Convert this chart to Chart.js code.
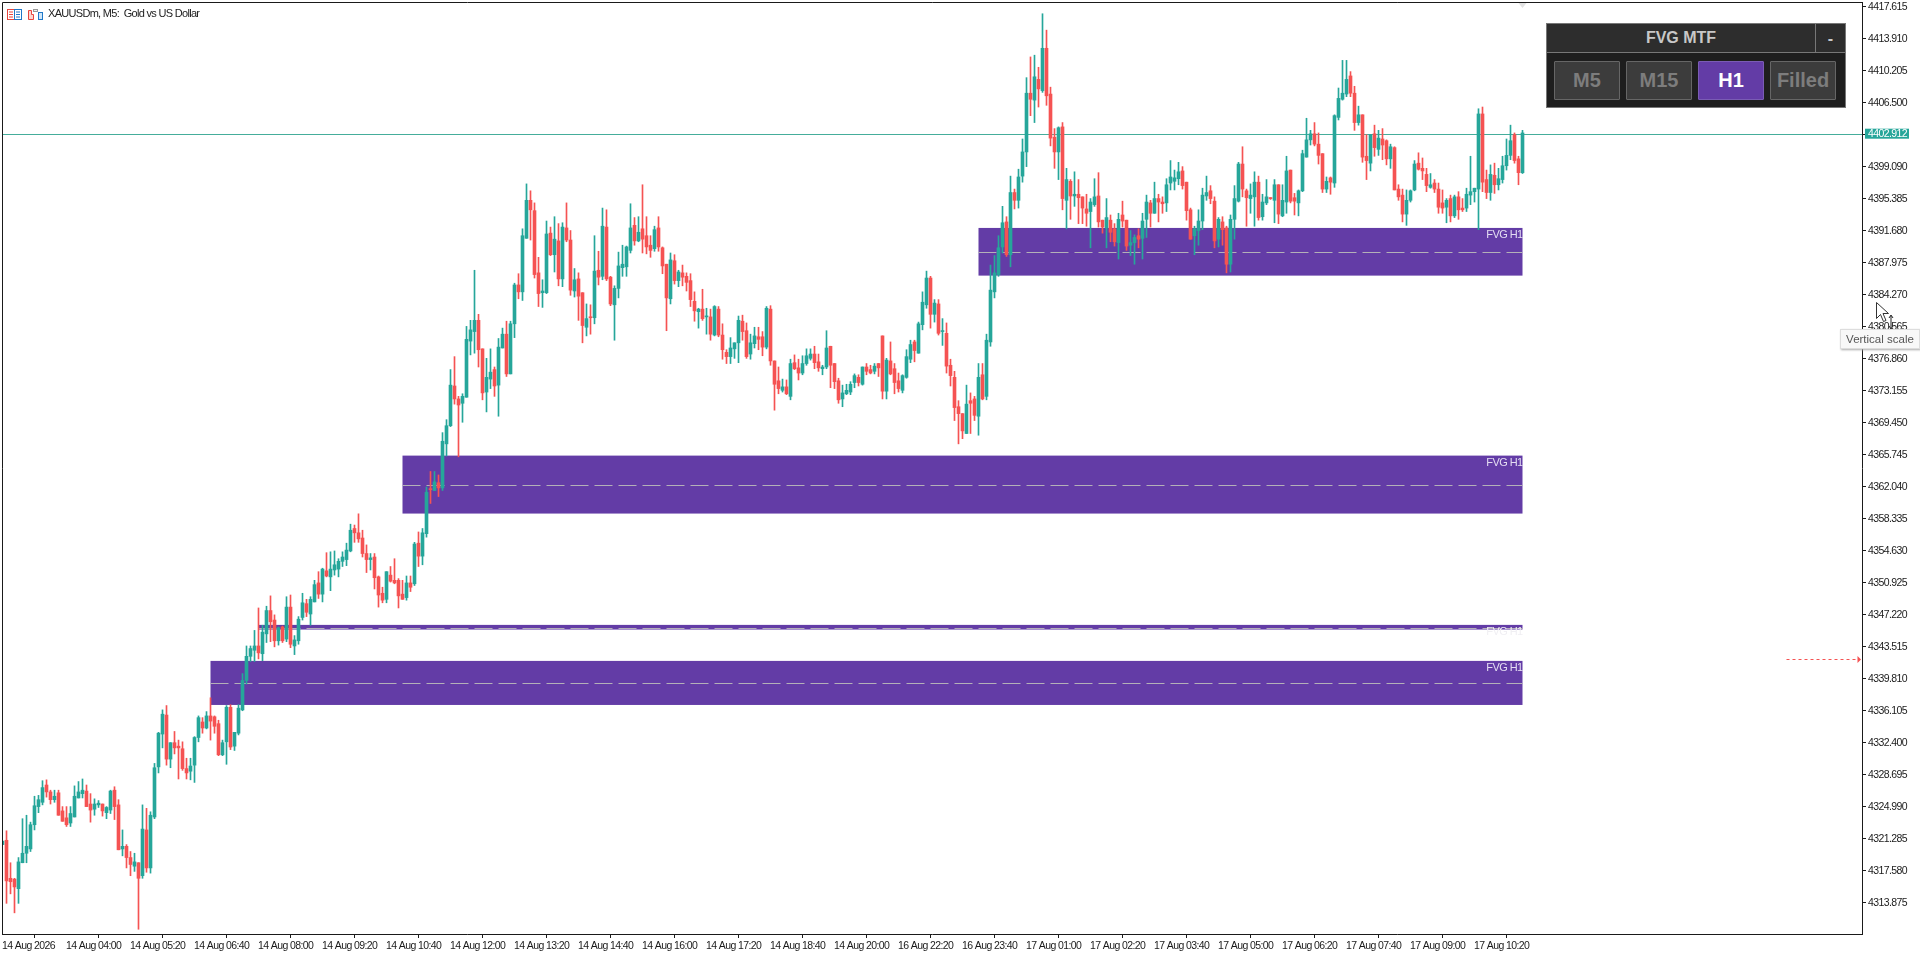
<!DOCTYPE html>
<html>
<head>
<meta charset="utf-8">
<title>XAUUSDm, M5</title>
<script src="https://cdn.jsdelivr.net/npm/chart.js@4/dist/chart.umd.min.js"></script>
<style>
  html, body { margin: 0; padding: 0; background: #fff; overflow: hidden; }
  #wrap { position: relative; width: 1920px; height: 955px; font-family: "Liberation Sans", Arial, sans-serif; }
  canvas { display: block; }
  .title { position: absolute; left: 48px; top: 6px; font: 11px/14px "Liberation Sans", sans-serif; letter-spacing: -0.7px; color: #222; white-space: pre; }
  .icons { position: absolute; left: 7px; top: 9px; }
  #panel { position: absolute; left: 1546px; top: 23px; width: 298px; height: 83px; background: #1e1e1e; border: 1px solid #777; }
  #panel .head { position: absolute; left: 0; top: 0; width: 268px; height: 28px; background: #2d2d2d; border-bottom: 1px solid #777; border-right: 1px solid #777; color: #c8c8c8; font-weight: bold; font-size: 16px; line-height: 28px; text-align: center; }
  #panel .min { position: absolute; left: 269px; top: 0; width: 29px; height: 28px; background: #2d2d2d; border-bottom: 1px solid #777; color: #c8c8c8; font-weight: bold; font-size: 16px; line-height: 30px; text-align: center; }
  #panel .btn { position: absolute; top: 37px; width: 64px; height: 37px; background: #3c3c3c; border: 1px solid #666; border-radius: 1px; color: #7d7d7d; font-weight: bold; font-size: 20px; line-height: 37px; text-align: center; }
  #panel .btn.on { background: #633ca6; color: #fff; border-color: #7a5cb4; }
  #tip { position: absolute; left: 1840px; top: 329px; width: 78px; height: 18px; background: #f8f8f8; border: 1px solid #ddd; box-shadow: 1px 1px 2px #aaa; font: 11.5px/18px "Liberation Sans", sans-serif; color: #555; text-align: center; }
  #cursor { position: absolute; left: 1876px; top: 302px; }
</style>
</head>
<body>
<div id="wrap">
  <canvas id="chart" width="1920" height="955"></canvas>
  <svg class="icons" width="37" height="12" viewBox="0 0 37 12">
    <rect x="0.5" y="0.5" width="7" height="10" fill="#fff" stroke="#e8453c"/>
    <path d="M2 3h4M2 5.5h4M2 8h4" stroke="#e8453c"/>
    <rect x="7.5" y="0.5" width="7" height="10" fill="#fff" stroke="#1f78c8"/>
    <path d="M9 3h4M9 5.5h4M9 8h4" stroke="#1f78c8"/>
    <path d="M21.5 1.5h3v4h2v5h-5z" fill="#fbd5cf" stroke="#e8453c"/>
    <rect x="31.5" y="3.5" width="4" height="7" fill="#cfe6f8" stroke="#1f78c8"/>
    <rect x="26.5" y="0.5" width="4" height="2" fill="#eee" stroke="#999"/>
  </svg>
  <div class="title">XAUUSDm, M5:  Gold vs US Dollar</div>
  <div id="panel">
    <div class="head">FVG MTF</div>
    <div class="min">-</div>
    <div class="btn" style="left:7px">M5</div>
    <div class="btn" style="left:79px">M15</div>
    <div class="btn on" style="left:151px">H1</div>
    <div class="btn" style="left:223px">Filled</div>
  </div>
  <div id="tip">Vertical scale</div>
  <svg id="cursor" width="24" height="30" viewBox="0 0 24 30">
    <path d="M0.5 0.5v16l4-4 3 7 2.5-1-3-7h5.5z" fill="#fff" stroke="#333"/>
    <path d="M15 14v12M13 16l2-3 2 3M13 24l2 3 2-3" fill="none" stroke="#222"/>
  </svg>
</div>
<script>
const tickLabels = ["14 Aug 2026", "14 Aug 04:00", "14 Aug 05:20", "14 Aug 06:40", "14 Aug 08:00", "14 Aug 09:20", "14 Aug 10:40", "14 Aug 12:00", "14 Aug 13:20", "14 Aug 14:40", "14 Aug 16:00", "14 Aug 17:20", "14 Aug 18:40", "14 Aug 20:00", "16 Aug 22:20", "16 Aug 23:40", "17 Aug 01:00", "17 Aug 02:20", "17 Aug 03:40", "17 Aug 05:00", "17 Aug 06:20", "17 Aug 07:40", "17 Aug 09:00", "17 Aug 10:20"];
const priceTicks = [4417.615, 4413.910, 4410.205, 4406.500, 4402.795, 4399.090, 4395.385, 4391.680, 4387.975, 4384.270, 4380.565, 4376.860, 4373.155, 4369.450, 4365.745, 4362.040, 4358.335, 4354.630, 4350.925, 4347.220, 4343.515, 4339.810, 4336.105, 4332.400, 4328.695, 4324.990, 4321.285, 4317.580, 4313.875];

const opens = [
  4320.6,4321.1,4316.7,4316.6,4315.5,4318.5,4319.6,4320.1,4322.9,4325.0,
  4325.5,4327.5,4326.7,4325.8,4326.6,4324.5,4323.7,4323.1,4323.8,4326.0,
  4326.5,4326.8,4325.3,4324.7,4325.2,4325.3,4324.3,4324.6,4326.9,4325.2,
  4320.1,4320.4,4319.1,4318.1,4318.5,4317.0,4322.3,4317.9,4323.8,4329.6,
  4333.4,4335.6,4330.5,4332.4,4332.0,4331.7,4329.4,4329.1,4329.8,4333.0,
  4334.8,4334.1,4335.5,4335.4,4334.6,4331.0,4332.5,4336.5,4332.0,4333.5,
  4336.2,4339.6,4342.4,4343.1,4343.6,4342.7,4345.0,4347.7,4346.6,4344.2,
  4345.8,4344.4,4348.1,4343.6,4344.2,4346.9,4348.5,4347.3,4348.7,4350.9,
  4349.6,4352.3,4351.6,4352.4,4352.5,4353.4,4353.6,4354.6,4357.2,4356.7,
  4356.1,4354.3,4353.6,4353.9,4351.6,4349.7,4349.0,4351.8,4351.2,4351.2,
  4349.6,4349.2,4350.9,4350.8,4355.5,4354.0,4356.6,4361.8,4361.6,4362.5,
  4361.9,4367.0,4369.1,4373.7,4372.2,4371.7,4372.4,4378.9,4380.0,4381.3,
  4378.0,4373.0,4374.5,4375.6,4373.8,4378.1,4379.7,4375.1,4380.9,4385.4,
  4384.6,4390.8,4395.2,4394.0,4386.8,4384.5,4384.5,4391.4,4388.9,4390.5,
  4386.1,4392.0,4390.6,4384.7,4386.1,4384.5,4380.5,4381.7,4381.6,4387.1,
  4386.4,4392.1,4386.3,4383.1,4385.0,4387.4,4387.5,4389.4,4392.3,4390.5,
  4391.9,4391.1,4390.0,4389.6,4392.0,4389.7,4387.8,4383.8,4388.2,4385.9,
  4386.8,4386.4,4385.9,4383.5,4382.3,4382.6,4381.7,4381.7,4379.6,4382.6,
  4379.6,4377.6,4377.1,4378.0,4378.7,4381.2,4380.1,4377.4,4378.6,4379.4,
  4379.4,4378.2,4382.6,4376.6,4374.3,4373.2,4373.6,4372.5,4376.4,4375.8,
  4375.2,4376.3,4376.9,4377.4,4376.5,4375.7,4375.9,4378.3,4376.3,4374.3,
  4372.2,4372.8,4373.0,4374.1,4374.7,4373.9,4375.9,4375.6,4375.4,4376.3,
  4379.5,4373.1,4376.6,4375.7,4374.3,4373.2,4374.7,4376.8,4378.8,4377.5,
  4380.8,4383.1,4386.2,4382.0,4383.2,4380.0,4379.8,4376.1,4374.7,4371.3,
  4370.5,4368.2,4372.0,4372.2,4370.2,4375.0,4372.5,4378.8,4384.6,4386.6,
  4389.8,4392.7,4388.9,4396.1,4395.2,4398.0,4400.8,4407.6,4406.8,4409.2,
  4407.9,4412.8,4407.5,4402.5,4400.8,4403.7,4395.2,4397.4,4395.7,4395.9,
  4395.6,4394.2,4393.9,4394.7,4395.7,4392.9,4392.0,4392.9,4391.9,4390.3,
  4393.5,4392.9,4390.0,4390.3,4391.1,4390.8,4393.0,4394.9,4393.7,4395.4,
  4395.0,4394.9,4397.2,4397.4,4397.7,4398.6,4397.3,4394.1,4391.1,4391.7,
  4392.8,4395.7,4396.3,4395.1,4390.7,4392.7,4392.0,4387.8,4393.0,4395.1,
  4399.4,4396.3,4395.4,4395.6,4397.3,4393.3,4394.9,4395.5,4395.2,4397.0,
  4393.4,4395.0,4398.7,4395.5,4394.9,4396.3,4400.2,4402.2,4402.9,4401.7,
  4400.6,4396.5,4397.8,4397.2,4404.8,4406.9,4407.5,4409.6,4407.6,4404.2,
  4405.1,4400.3,4399.5,4402.9,4401.1,4402.3,4402.1,4400.0,4401.3,4396.5,
  4395.8,4393.6,4395.2,4396.4,4399.5,4398.9,4398.2,4396.7,4397.2,4396.5,
  4394.9,4394.4,4395.4,4393.4,4395.6,4394.3,4394.3,4395.8,4396.2,4396.5,
  4405.2,4397.6,4396.1,4398.1,4397.0,4397.6,4399.2,4400.4,4402.8,4400.0,
  4398.4
];
const highs = [
  4321.0,4322.2,4318.5,4316.7,4319.1,4323.6,4324.0,4323.2,4326.2,4326.3,
  4328.0,4328.1,4326.9,4326.9,4326.9,4325.0,4325.0,4325.0,4327.4,4327.9,
  4328.2,4327.5,4326.5,4325.9,4325.7,4325.3,4325.0,4326.9,4327.3,4325.8,
  4322.3,4320.6,4319.8,4319.6,4318.5,4325.2,4324.8,4324.4,4330.0,4333.6,
  4336.2,4336.7,4332.4,4333.7,4332.7,4332.5,4330.6,4330.6,4333.1,4335.5,
  4335.3,4336.0,4337.6,4335.5,4335.0,4332.7,4336.7,4336.8,4333.6,4336.8,
  4340.4,4343.6,4343.6,4345.4,4348.0,4346.0,4348.2,4349.4,4347.2,4345.8,
  4345.9,4349.3,4349.5,4344.8,4347.0,4349.7,4349.0,4349.3,4351.2,4352.2,
  4352.6,4354.4,4354.5,4354.6,4353.7,4354.5,4355.5,4357.7,4357.6,4358.9,
  4357.0,4355.3,4354.3,4354.3,4351.7,4350.4,4352.2,4352.8,4353.7,4351.4,
  4351.2,4351.7,4351.7,4355.6,4356.8,4357.2,4362.0,4363.8,4363.8,4363.4,
  4368.3,4369.8,4375.6,4377.1,4372.5,4372.8,4380.6,4381.3,4387.1,4382.0,
  4378.0,4376.9,4378.0,4375.9,4379.2,4380.4,4381.2,4381.2,4385.6,4386.7,
  4391.9,4397.1,4396.3,4394.9,4388.6,4386.0,4392.8,4392.1,4393.3,4392.5,
  4392.6,4394.9,4391.7,4387.3,4386.8,4384.5,4383.2,4383.1,4391.1,4389.3,
  4394.3,4394.1,4386.4,4385.3,4389.2,4390.0,4389.9,4394.8,4393.2,4393.3,
  4397.0,4393.3,4391.1,4392.2,4393.3,4389.8,4387.8,4389.1,4388.9,4387.1,
  4387.7,4386.8,4386.7,4384.6,4382.7,4384.9,4382.7,4382.6,4383.0,4382.9,
  4380.9,4377.9,4379.3,4378.7,4381.8,4381.9,4381.0,4379.7,4380.5,4380.5,
  4380.0,4382.9,4383.0,4376.6,4375.9,4374.5,4374.4,4376.8,4377.3,4376.8,
  4377.2,4378.0,4378.0,4378.3,4377.4,4376.1,4380.1,4378.3,4376.3,4374.6,
  4373.8,4373.9,4374.2,4375.1,4375.0,4375.9,4376.3,4376.1,4376.3,4376.3,
  4379.5,4376.9,4378.8,4376.3,4375.2,4375.0,4377.9,4379.0,4379.0,4381.1,
  4384.6,4387.0,4386.4,4383.7,4383.7,4381.5,4381.0,4376.8,4375.4,4372.0,
  4370.5,4373.8,4372.9,4372.5,4376.3,4376.3,4379.7,4387.7,4388.8,4391.1,
  4394.5,4393.3,4398.0,4396.5,4398.8,4402.3,4409.4,4411.8,4412.0,4410.6,
  4416.8,4414.9,4408.3,4403.5,4403.7,4404.2,4398.9,4397.6,4398.5,4397.6,
  4395.6,4395.9,4395.4,4397.7,4398.4,4392.9,4395.4,4393.5,4392.5,4393.7,
  4395.1,4392.9,4391.7,4391.2,4391.9,4393.7,4395.8,4395.2,4397.3,4395.9,
  4395.6,4397.7,4399.8,4398.7,4399.6,4399.1,4397.3,4394.3,4392.2,4394.1,
  4396.6,4398.0,4396.9,4395.6,4393.2,4393.3,4392.2,4393.5,4396.9,4399.6,
  4401.4,4396.5,4397.1,4398.5,4398.0,4395.9,4397.6,4395.5,4397.6,4397.0,
  4397.0,4400.3,4398.7,4396.0,4396.4,4401.0,4404.7,4403.3,4404.2,4403.0,
  4400.6,4397.9,4397.9,4405.1,4408.2,4411.4,4411.4,4410.1,4408.4,4406.1,
  4405.1,4402.8,4402.8,4403.9,4403.3,4403.5,4402.2,4401.7,4401.4,4397.0,
  4396.5,4396.4,4396.4,4399.8,4400.7,4400.1,4398.9,4398.3,4397.6,4397.2,
  4396.4,4395.4,4395.8,4395.8,4396.2,4395.4,4396.6,4400.3,4396.6,4405.8,
  4406.0,4398.7,4399.3,4399.5,4398.9,4400.3,4402.3,4403.9,4403.0,4400.3,
  4403.3
];
const lows = [
  4320.6,4313.8,4314.9,4312.7,4313.8,4318.5,4318.5,4319.8,4322.3,4324.3,
  4325.2,4326.1,4325.3,4325.5,4324.0,4323.3,4322.7,4322.7,4323.8,4326.0,
  4326.0,4325.0,4323.2,4324.0,4324.9,4323.9,4323.6,4324.2,4323.5,4320.0,
  4319.3,4317.9,4317.0,4317.5,4310.8,4316.7,4317.4,4317.3,4323.6,4328.9,
  4331.8,4329.8,4329.5,4331.1,4328.2,4329.2,4328.2,4328.1,4327.8,4332.5,
  4333.5,4334.0,4332.7,4333.5,4330.9,4330.9,4329.9,4331.6,4331.5,4333.3,
  4336.1,4339.2,4341.8,4341.8,4342.1,4341.9,4344.0,4344.1,4343.5,4343.7,
  4344.0,4344.1,4343.4,4342.6,4343.8,4346.6,4347.0,4346.0,4348.7,4349.1,
  4348.7,4351.6,4350.0,4351.8,4351.6,4352.8,4352.9,4354.5,4355.6,4355.6,
  4353.9,4352.1,4352.4,4350.2,4348.1,4348.6,4348.6,4351.0,4350.8,4348.0,
  4349.0,4348.9,4349.9,4350.6,4352.8,4353.0,4356.2,4360.1,4361.6,4360.9,
  4361.6,4365.6,4369.0,4371.6,4365.5,4369.5,4372.4,4377.3,4377.5,4375.9,
  4372.1,4370.7,4373.4,4372.5,4370.2,4378.1,4374.8,4375.1,4379.3,4383.8,
  4383.6,4390.8,4390.6,4386.2,4382.9,4382.8,4384.4,4388.8,4386.9,4385.3,
  4385.2,4390.4,4384.2,4384.0,4381.3,4378.7,4379.5,4379.7,4380.9,4385.4,
  4386.0,4385.9,4383.0,4379.0,4383.9,4386.4,4386.4,4389.1,4390.0,4390.4,
  4389.1,4389.0,4388.6,4389.3,4389.3,4386.7,4380.1,4383.2,4385.5,4385.2,
  4385.3,4384.7,4382.9,4381.2,4380.4,4381.3,4379.7,4379.0,4379.5,4379.4,
  4376.8,4376.3,4376.3,4376.9,4376.4,4379.0,4376.9,4376.8,4378.1,4377.9,
  4377.2,4378.0,4376.1,4370.9,4372.8,4373.0,4372.7,4372.1,4375.6,4374.4,
  4375.0,4376.1,4376.7,4375.7,4375.4,4375.0,4375.7,4373.5,4373.4,4371.7,
  4371.3,4372.7,4372.7,4373.5,4373.7,4373.8,4375.0,4375.1,4375.1,4374.8,
  4372.2,4372.2,4375.0,4372.8,4373.0,4372.9,4374.6,4376.4,4376.5,4377.5,
  4380.2,4382.7,4380.4,4381.1,4379.6,4378.4,4375.2,4373.7,4369.7,4367.0,
  4367.6,4368.2,4368.2,4369.7,4368.0,4372.1,4372.1,4378.3,4383.9,4386.4,
  4389.1,4388.7,4387.5,4394.2,4394.3,4397.3,4399.1,4405.0,4404.2,4406.0,
  4407.7,4406.2,4401.5,4398.9,4397.6,4394.1,4391.9,4393.0,4394.5,4392.5,
  4392.5,4392.2,4389.7,4394.5,4392.1,4391.4,4389.7,4390.4,4389.9,4388.4,
  4392.1,4389.4,4388.8,4387.8,4389.7,4388.4,4390.9,4392.1,4393.7,4392.7,
  4393.7,4393.9,4396.4,4396.4,4397.0,4396.5,4392.9,4390.7,4388.9,4390.0,
  4391.8,4395.2,4394.8,4389.7,4389.8,4390.0,4386.8,4386.9,4390.7,4395.0,
  4395.6,4392.2,4393.7,4392.2,4392.9,4392.9,4394.7,4395.3,4392.6,4392.5,
  4393.3,4393.7,4394.9,4393.5,4393.4,4396.2,4400.2,4401.6,4401.5,4399.4,
  4396.1,4396.1,4395.9,4396.7,4404.5,4406.8,4407.2,4407.2,4403.3,4403.9,
  4399.6,4397.6,4398.6,4400.3,4400.4,4399.9,4399.3,4398.9,4396.4,4395.2,
  4392.7,4392.3,4395.0,4396.3,4398.7,4397.6,4396.2,4396.6,4396.1,4393.7,
  4393.7,4392.6,4392.7,4393.2,4393.0,4393.9,4393.9,4394.7,4395.0,4391.8,
  4396.2,4395.4,4395.2,4396.0,4396.4,4397.2,4398.7,4399.9,4399.5,4397.0,
  4398.3
];
const closes = [
  4321.0,4316.4,4316.3,4315.7,4318.6,4319.6,4320.4,4322.9,4325.1,4325.8,
  4327.2,4326.7,4325.8,4326.2,4324.0,4323.3,4322.9,4324.2,4326.2,4326.7,
  4326.9,4325.0,4324.6,4325.3,4325.4,4324.5,4324.9,4326.8,4325.0,4320.0,
  4320.4,4319.1,4318.3,4318.6,4316.7,4322.4,4317.9,4324.0,4329.5,4333.5,
  4335.7,4330.5,4332.4,4331.8,4331.8,4329.4,4328.9,4329.7,4333.0,4335.3,
  4334.1,4335.5,4334.9,4334.3,4331.0,4332.4,4336.5,4331.9,4333.6,4336.4,
  4339.6,4342.4,4343.3,4343.6,4342.8,4345.2,4347.7,4346.4,4344.2,4345.7,
  4344.2,4348.1,4343.8,4344.3,4346.7,4348.6,4347.5,4349.0,4350.7,4349.6,
  4352.5,4351.7,4352.5,4353.0,4353.4,4353.9,4354.7,4357.0,4356.7,4356.0,
  4354.3,4353.6,4353.8,4351.5,4349.5,4348.9,4352.2,4351.1,4350.9,4349.4,
  4349.0,4350.9,4350.4,4355.4,4354.0,4356.7,4361.4,4361.7,4362.6,4361.9,
  4367.3,4369.1,4373.8,4372.2,4371.5,4372.5,4379.1,4380.2,4381.3,4377.9,
  4372.9,4374.7,4375.3,4373.7,4378.2,4379.7,4375.1,4380.9,4385.4,4384.6,
  4391.1,4395.2,4394.1,4386.6,4384.4,4384.7,4391.3,4388.9,4390.7,4386.1,
  4392.1,4390.6,4384.8,4386.0,4384.1,4380.7,4381.5,4381.6,4387.0,4386.3,
  4392.2,4386.1,4383.2,4385.0,4387.6,4387.8,4389.8,4392.0,4390.5,4391.5,
  4390.7,4389.8,4389.4,4391.8,4389.8,4387.6,4383.9,4388.3,4385.9,4386.9,
  4386.3,4385.7,4383.7,4382.4,4382.6,4381.5,4381.8,4379.7,4382.9,4379.6,
  4377.9,4377.1,4378.1,4378.7,4381.3,4380.0,4377.1,4378.7,4379.5,4379.1,
  4378.2,4382.7,4376.6,4373.9,4373.4,4373.6,4372.8,4376.3,4375.7,4375.2,
  4376.3,4377.2,4377.4,4376.4,4375.8,4375.9,4378.1,4376.1,4374.2,4372.1,
  4372.9,4373.2,4373.9,4374.9,4374.1,4375.9,4375.4,4375.2,4376.0,4375.8,
  4373.1,4376.7,4375.1,4374.1,4373.4,4374.9,4377.1,4378.5,4377.8,4380.9,
  4383.4,4386.2,4382.0,4383.3,4379.8,4380.1,4376.0,4374.9,4371.2,4370.5,
  4368.5,4371.6,4371.7,4370.3,4374.7,4372.2,4379.0,4384.8,4386.8,4389.7,
  4392.6,4388.9,4396.1,4395.2,4397.9,4400.8,4407.6,4406.9,4409.5,4408.1,
  4412.8,4407.3,4402.4,4400.8,4403.6,4395.4,4397.6,4395.7,4395.9,4395.5,
  4394.3,4393.7,4395.0,4395.6,4392.7,4392.1,4393.2,4391.5,4390.4,4393.0,
  4392.8,4389.9,4390.3,4390.9,4390.7,4392.8,4395.0,4393.7,4395.4,4395.0,
  4394.8,4397.0,4397.9,4397.8,4398.5,4396.9,4394.0,4390.7,4391.9,4392.8,
  4395.8,4396.1,4395.4,4390.5,4393.0,4391.8,4387.8,4393.0,4395.4,4399.4,
  4396.5,4395.5,4395.8,4397.3,4393.2,4395.0,4395.6,4395.4,4397.0,4393.6,
  4395.2,4398.6,4395.1,4395.1,4396.3,4400.6,4402.2,4402.9,4401.7,4400.4,
  4396.5,4397.4,4397.3,4405.0,4407.0,4407.6,4409.2,4407.6,4404.2,4405.1,
  4400.2,4399.8,4402.8,4401.3,4402.4,4401.6,4400.0,4401.4,4396.4,4395.6,
  4393.6,4395.2,4396.3,4399.4,4398.8,4398.6,4396.9,4397.0,4396.5,4394.4,
  4394.3,4395.2,4393.4,4395.6,4394.1,4394.1,4395.9,4396.2,4396.6,4405.2,
  4397.3,4396.1,4398.2,4397.0,4397.7,4399.2,4400.4,4402.1,4399.8,4398.4,
  4403.0
];

// zones, top to bottom
const zoneTops = [4392.0, 4365.64, 4346.04, 4341.87];
const zoneBottoms = [4386.48, 4358.93, 4345.5, 4336.77];
const zoneMids = [4389.18, 4362.2, 4345.65, 4339.28];
const zoneStarts = [244, 100, 64, 52];
const zoneEnd = 380;
const zoneLabel = "FVG H1";

const lastPrice = 4402.912;
const alertPrice = 4342.06;

const UP = "#26a69a";
const DOWN = "#f55353";
const ZONE = "#633ca6";
const AXIS = "#1a1a1a";
const FONT = '"Liberation Sans", sans-serif';

const BARS_PER_LABEL = 16;
const colors = opens.map((o, i) => (closes[i] >= o ? UP : DOWN));

const overlays = {
  id: "overlays",
  beforeDraw(chart) {
    // there is no narrow font here, so tighten the default one
    chart.ctx.letterSpacing = "-0.6px";
  },
  beforeDatasetsDraw(chart) {
    const { ctx, chartArea, scales: { x, y } } = chart;
    ctx.save();
    zoneTops.forEach((top, i) => {
      const left = x.getPixelForValue(zoneStarts[i]);
      const right = x.getPixelForValue(zoneEnd);
      const yTop = y.getPixelForValue(top);
      const yBottom = y.getPixelForValue(zoneBottoms[i]);
      ctx.fillStyle = ZONE;
      ctx.fillRect(left, yTop, right - left, yBottom - yTop);

      const yMid = Math.round(y.getPixelForValue(zoneMids[i])) + 0.5;
      ctx.strokeStyle = "#b4b0b8";
      ctx.lineWidth = 1;
      ctx.setLineDash([18, 6]);
      ctx.beginPath();
      ctx.moveTo(left, yMid);
      ctx.lineTo(right, yMid);
      ctx.stroke();
      ctx.setLineDash([]);

      // the thin zone's label falls out under it, on white
      ctx.fillStyle = i === 2 ? "#f0eff3" : "#e4ddf2";
      ctx.font = "11px " + FONT;
      ctx.textAlign = "right";
      ctx.textBaseline = "middle";
      ctx.fillText(zoneLabel, right, yTop + 7);
    });

    const yLast = Math.round(y.getPixelForValue(lastPrice)) + 0.5;
    ctx.strokeStyle = "#45ad9b";
    ctx.lineWidth = 1;
    ctx.beginPath();
    ctx.moveTo(chartArea.left, yLast);
    ctx.lineTo(chartArea.right, yLast);
    ctx.stroke();
    ctx.restore();
  },
  afterDraw(chart) {
    const { ctx, chartArea, scales: { x, y } } = chart;
    ctx.save();
    // top and left frame
    ctx.strokeStyle = AXIS;
    ctx.lineWidth = 1;
    ctx.beginPath();
    ctx.moveTo(chartArea.left + 0.5, chartArea.bottom);
    ctx.lineTo(chartArea.left + 0.5, chartArea.top + 0.5);
    ctx.lineTo(chartArea.right, chartArea.top + 0.5);
    ctx.stroke();

    // chart shift marker
    const shiftX = x.getPixelForValue(zoneEnd);
    ctx.fillStyle = "#e2e2e2";
    ctx.beginPath();
    ctx.moveTo(shiftX - 4, chartArea.top + 1);
    ctx.lineTo(shiftX + 4, chartArea.top + 1);
    ctx.lineTo(shiftX, chartArea.top + 6);
    ctx.fill();

    // last price tag
    const yLast = y.getPixelForValue(lastPrice);
    ctx.fillStyle = UP;
    ctx.fillRect(chartArea.right + 3, yLast - 5, 44, 10);
    ctx.fillStyle = "#fff";
    ctx.font = "10.5px " + FONT;
    ctx.textAlign = "left";
    ctx.textBaseline = "middle";
    ctx.fillText(lastPrice.toFixed(3), chartArea.right + 6, yLast + 0.5);

    // alert arrow
    const yAlert = Math.round(y.getPixelForValue(alertPrice)) + 0.5;
    const arrowEnd = x.getPixelForValue(463.75);
    ctx.strokeStyle = DOWN;
    ctx.setLineDash([3, 3]);
    ctx.beginPath();
    ctx.moveTo(x.getPixelForValue(446), yAlert);
    ctx.lineTo(arrowEnd, yAlert);
    ctx.stroke();
    ctx.setLineDash([]);
    ctx.fillStyle = DOWN;
    ctx.beginPath();
    ctx.moveTo(arrowEnd, yAlert - 3.5);
    ctx.lineTo(arrowEnd + 3.5, yAlert);
    ctx.lineTo(arrowEnd, yAlert + 3.5);
    ctx.fill();
    ctx.restore();
  },
};

new Chart(document.getElementById("chart"), {
  type: "bar",
  data: {
    datasets: [
      {
        label: "Wicks",
        data: lows.map((l, i) => ({ x: i, y: [l, highs[i]] })),
        backgroundColor: colors,
        barThickness: 1,
        grouped: false,
      },
      {
        label: "Bodies",
        data: opens.map((o, i) => ({ x: i, y: [o, closes[i]] })),
        backgroundColor: colors,
        barThickness: 3,
        minBarLength: 1,
        grouped: false,
      },
    ],
  },
  plugins: [overlays],
  options: {
    responsive: false,
    animation: false,
    devicePixelRatio: 1,
    layout: { autoPadding: false, padding: { left: 2, top: 2, right: 0, bottom: 0 } },
    plugins: { legend: { display: false }, tooltip: { enabled: false } },
    scales: {
      x: {
        type: "linear",
        offset: false,
        min: -0.125,
        max: 464.875,
        grid: { display: true, drawOnChartArea: false, drawTicks: true, tickLength: 4, color: AXIS },
        border: { display: true, color: AXIS },
        afterBuildTicks(axis) {
          axis.ticks = tickLabels.map((_, k) => ({ value: k * BARS_PER_LABEL - 0.125 }));
        },
        afterFit(axis) {
          axis.height = 21;
          axis.paddingLeft = 0;
          axis.paddingRight = 0;
        },
        ticks: {
          autoSkip: false,
          maxRotation: 0,
          minRotation: 0,
          align: "start",
          padding: 2,
          color: AXIS,
          font: { family: FONT, size: 10.5 },
          callback: (v, i) => tickLabels[i],
        },
      },
      y: {
        position: "right",
        min: 4310.25,
        max: 4418.16,
        grid: { display: true, drawOnChartArea: false, drawTicks: true, tickLength: 4, color: AXIS },
        border: { display: true, color: AXIS },
        afterBuildTicks(axis) {
          axis.ticks = priceTicks.map((v) => ({ value: v }));
        },
        afterFit(axis) {
          axis.width = 58;
          axis.paddingTop = 0;
          axis.paddingBottom = 0;
        },
        ticks: {
          autoSkip: false,
          padding: 2,
          color: AXIS,
          font: { family: FONT, size: 10.5 },
          callback: (v) => v.toFixed(3),
        },
      },
    },
  },
});
</script>
</body>
</html>
